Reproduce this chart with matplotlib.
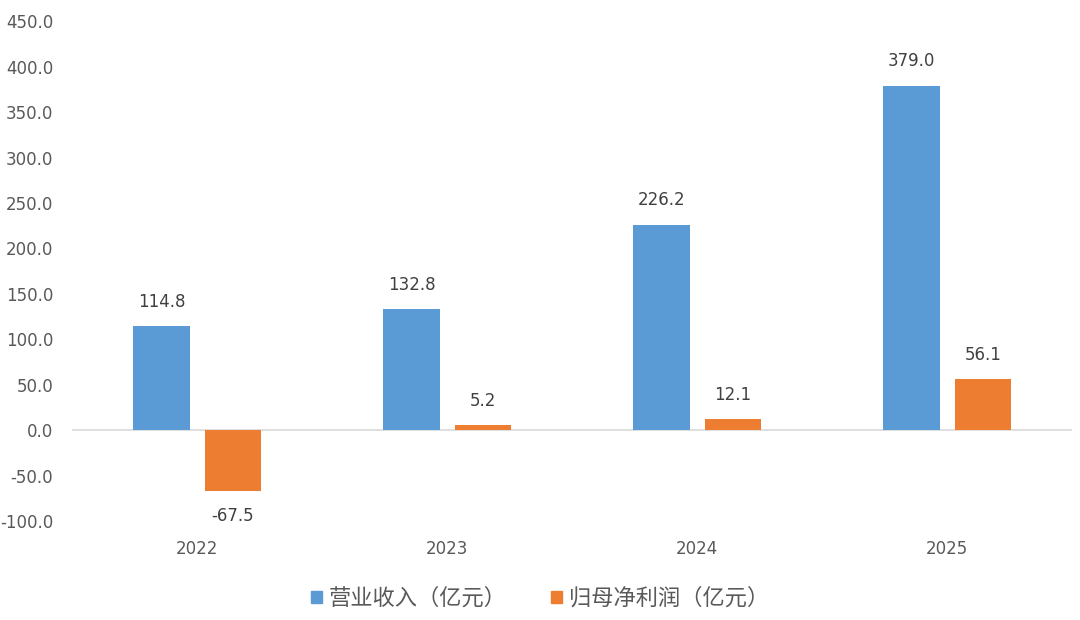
import numpy as np
import matplotlib.pyplot as plt
from matplotlib.patches import Patch

plt.rcParams['font.family'] = ['DejaVu Sans', 'Noto Sans CJK SC']

years = ['2022', '2023', '2024', '2025']
revenue = [114.8, 132.8, 226.2, 379.0]
net_profit = [-67.5, 5.2, 12.1, 56.1]
series_names = ['营业收入（亿元）', '归母净利润（亿元）']
colors = ['#5B9BD5', '#ED7D31']
yticks = [-100, -50, 0, 50, 100, 150, 200, 250, 300, 350, 400, 450]

fig = plt.figure(figsize=(10.8, 6.2), dpi=100)
ax = fig.add_axes([0.0667, 0.1597, 0.926, 0.806])

x = np.arange(len(years))
w = 0.225
off = 0.1425
b1 = ax.bar(x - off, revenue, w, color=colors[0])
b2 = ax.bar(x + off, net_profit, w, color=colors[1])

for bars, vals in [(b1, revenue), (b2, net_profit)]:
    for rect, v in zip(bars, vals):
        dy = 11 if v >= 0 else -11
        ax.annotate(f'{v:.1f}', (rect.get_x() + rect.get_width() / 2, v),
                    xytext=(0, dy), textcoords='offset points',
                    ha='center', va='bottom' if v >= 0 else 'top',
                    fontsize=12, color='#404040')

ax.axhline(0, color='#D9D9D9', lw=1.2, zorder=0)
ax.set_xlim(-0.5, len(years) - 0.5)
ax.set_ylim(-100, 450)
ax.set_yticks(yticks)
ax.set_yticklabels([f'{t:.1f}' for t in yticks])
ax.set_xticks(x)
ax.set_xticklabels(years)
ax.tick_params(axis='both', length=0, labelsize=12, labelcolor='#595959')
ax.tick_params(axis='x', pad=14)
ax.tick_params(axis='y', pad=13.5)
for s in ax.spines.values():
    s.set_visible(False)

handles = [Patch(color=c) for c in colors]
fig.legend(handles, series_names, loc='center', bbox_to_anchor=(0.5, 0.035),
           ncol=2, frameon=False, labelcolor='#595959',
           prop={'family': ['Noto Sans CJK SC', 'DejaVu Sans'], 'size': 16},
           handlelength=0.5, handleheight=0.5, handletextpad=0.3,
           columnspacing=2.0)

fig.savefig('out.png', dpi=100)
